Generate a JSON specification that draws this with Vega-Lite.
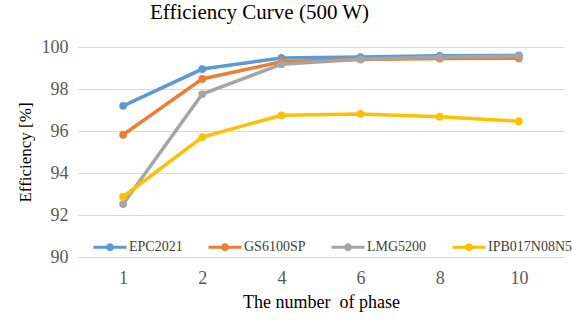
{
  "$schema": "https://vega.github.io/schema/vega-lite/v6.json",
  "width": 486,
  "height": 210,
  "autosize": {"type": "none"},
  "padding": {"left": 78, "top": 47, "right": 8, "bottom": 67},
  "background": "white",
  "title": {"text": "Efficiency Curve (500 W)", "fontSize": 21, "fontWeight": "normal", "color": "#000000", "offset": 15, "anchor": "start", "dx": 134},
  "data": {"values": [
    {"phase": "1", "device": "EPC2021", "eff": 97.2},
    {"phase": "2", "device": "EPC2021", "eff": 98.95},
    {"phase": "4", "device": "EPC2021", "eff": 99.48},
    {"phase": "6", "device": "EPC2021", "eff": 99.52},
    {"phase": "8", "device": "EPC2021", "eff": 99.58},
    {"phase": "10", "device": "EPC2021", "eff": 99.6},
    {"phase": "1", "device": "GS6100SP", "eff": 95.82},
    {"phase": "2", "device": "GS6100SP", "eff": 98.48},
    {"phase": "4", "device": "GS6100SP", "eff": 99.3},
    {"phase": "6", "device": "GS6100SP", "eff": 99.4},
    {"phase": "8", "device": "GS6100SP", "eff": 99.45},
    {"phase": "10", "device": "GS6100SP", "eff": 99.46},
    {"phase": "1", "device": "LMG5200", "eff": 92.52},
    {"phase": "2", "device": "LMG5200", "eff": 97.76},
    {"phase": "4", "device": "LMG5200", "eff": 99.18},
    {"phase": "6", "device": "LMG5200", "eff": 99.42},
    {"phase": "8", "device": "LMG5200", "eff": 99.52},
    {"phase": "10", "device": "LMG5200", "eff": 99.56},
    {"phase": "1", "device": "IPB017N08N5", "eff": 92.87},
    {"phase": "2", "device": "IPB017N08N5", "eff": 95.71},
    {"phase": "4", "device": "IPB017N08N5", "eff": 96.75},
    {"phase": "6", "device": "IPB017N08N5", "eff": 96.81},
    {"phase": "8", "device": "IPB017N08N5", "eff": 96.68},
    {"phase": "10", "device": "IPB017N08N5", "eff": 96.47}
  ]},
  "mark": {"type": "line", "strokeWidth": 3.5, "point": {"filled": true, "size": 60}},
  "encoding": {
    "x": {
      "field": "phase", "type": "ordinal", "sort": ["1", "2", "4", "6", "8", "10"],
      "scale": {"type": "point", "padding": 0.57},
      "axis": {"title": "The number\u00a0 of phase", "labelAngle": 0, "domain": false, "ticks": false, "grid": false,
               "labelFontSize": 18, "labelColor": "#595959", "labelPadding": 12,
               "titleFontSize": 18, "titleFontWeight": "normal", "titleColor": "#000000", "titlePadding": 6}
    },
    "y": {
      "field": "eff", "type": "quantitative",
      "scale": {"domain": [90, 100], "zero": false, "nice": false},
      "axis": {"title": "Efficiency [%]", "values": [90, 92, 94, 96, 98, 100], "domain": false, "ticks": false,
               "grid": true, "gridColor": "#D9D9D9", "gridWidth": 1,
               "labelFontSize": 18, "labelColor": "#595959", "labelPadding": 10,
               "titleFontSize": 17, "titleFontWeight": "normal", "titleColor": "#000000", "titlePadding": 7}
    },
    "color": {
      "field": "device", "type": "nominal",
      "scale": {"domain": ["EPC2021", "GS6100SP", "LMG5200", "IPB017N08N5"], "range": ["#5B9BD5", "#ED7D31", "#A5A5A5", "#FFC000"]},
      "legend": {
        "title": null, "orient": "none", "direction": "horizontal", "legendX": 14, "legendY": 182,
        "labelFontSize": 14, "labelColor": "#404040", "labelOffset": 1,
        "columnPadding": 19,
        "symbolType": "M-1,0H1M-0.15,0A0.15,0.15 0 1,0 0.15,0A0.15,0.15 0 1,0 -0.15,0Z",
        "symbolSize": 1089, "symbolStrokeWidth": 3,
        "encode": {"symbols": {"update": {"fill": {"scale": "color", "field": "value"}}}}
      }
    }
  },
  "config": {"view": {"stroke": null}, "font": "Times New Roman, Liberation Serif, DejaVu Serif, serif"}
}
